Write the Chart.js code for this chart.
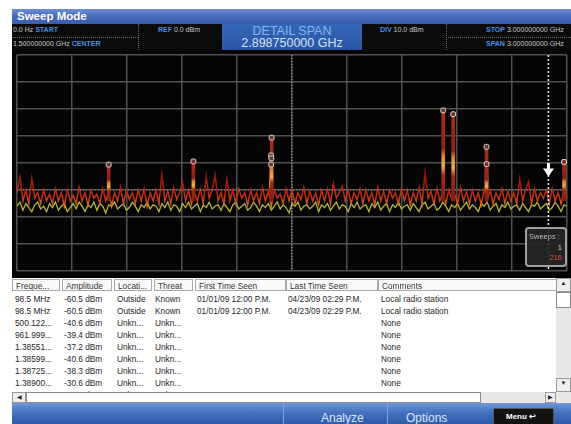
<!DOCTYPE html>
<html><head><meta charset="utf-8">
<script src="https://cdn.jsdelivr.net/npm/chart.js@4.4.1/dist/chart.umd.min.js"></script>
<style>
html,body{margin:0;padding:0;}
body{width:571px;height:424px;overflow:hidden;position:relative;background:#fff;font-family:"Liberation Sans",Arial,sans-serif;}
.a{position:absolute;white-space:nowrap;}
#title{left:12px;top:9px;width:559px;height:15px;background:linear-gradient(180deg,#7090d4 0%,#4a6cbc 45%,#3a5cae 100%);color:#fff;font-weight:bold;font-size:11.5px;line-height:15px;padding-left:5px;box-sizing:border-box;}
#info{left:12px;top:24px;width:559px;height:26px;background:#0b0b0b;}
.it{position:absolute;font-size:7px;color:#c8c8c8;white-space:nowrap;line-height:8px;}
.it b{color:#4a8ee0;}
.dh{position:absolute;height:0;border-top:1px dotted #6a6a6a;}
.dv{position:absolute;width:0;border-left:1px dotted #6a6a6a;}
#detail{left:222px;top:24px;width:140px;height:26px;background:linear-gradient(180deg,#3666b8,#2a56a4);text-align:center;}
#detail .l1{position:absolute;left:0;width:140px;top:1px;font-size:12.5px;line-height:13px;color:#86b4ea;}
#detail .l2{position:absolute;left:0;width:140px;top:13px;font-size:12.5px;line-height:13px;color:#d4e0f6;}
#plot{left:12px;top:50px;width:559px;height:228px;background:#050505;overflow:hidden;}
#plot canvas{position:absolute;left:0;top:0;}
#sweeps{left:525px;top:227px;width:38px;height:36px;border:2px solid #a0a0a0;border-radius:4px;background:rgba(38,38,38,0.92);}
#sweeps div{position:absolute;font-size:7.5px;line-height:9px;}
#tbl{left:12px;top:278px;width:544px;height:114px;overflow:hidden;background:#fff;}
.hc{position:absolute;top:1px;height:12px;border:1px solid #a8a8a8;background:#fafafa;font-size:8.3px;line-height:12px;color:#333;padding-left:3px;box-sizing:border-box;overflow:hidden;white-space:nowrap;}
.tc{position:absolute;font-size:8.3px;line-height:10px;color:#262626;white-space:nowrap;}
.btn{position:absolute;background:#eeeeee;border:1px solid #9a9a9a;box-sizing:border-box;font-size:6px;line-height:9px;text-align:center;color:#222;}
#bottom{left:12px;top:403px;width:559px;height:21px;background:linear-gradient(180deg,#6d98da 0%,#4571c0 45%,#2f5aa8 100%);}
.bt{position:absolute;top:8px;font-size:12px;color:#dbe6f8;line-height:14px;}
.sep{position:absolute;top:0;width:1px;height:21px;background:#7fa2dc;}
#menu{position:absolute;left:481px;top:5px;width:61px;height:17px;background:#131313;border:1px solid #555;border-radius:2px;box-sizing:border-box;color:#fff;font-weight:bold;font-size:8px;line-height:15px;padding-left:12px;}
</style>
</head><body>

<div id="title" class="a">Sweep Mode</div>
<div id="info" class="a"></div>
<div class="it" style="left:13px;top:25.5px;">0.0 Hz <b>START</b></div>
<div class="dh" style="left:12px;top:37px;width:126px;"></div>
<div class="it" style="left:13px;top:40px;">1.500000000 GHz <b>CENTER</b></div>
<div class="dv" style="left:138px;top:24px;height:26px;"></div>
<div class="it" style="left:158px;top:25.5px;"><b>REF</b> 0.0 dBm</div>
<div id="detail" class="a"><div class="l1">DETAIL SPAN</div><div class="l2">2.898750000 GHz</div></div>
<div class="it" style="left:380px;top:25.5px;"><b>DIV</b> 10.0 dBm</div>
<div class="dv" style="left:446px;top:24px;height:26px;"></div>
<div class="it" style="left:486px;top:25.5px;"><b>STOP</b> 3.000000000 GHz</div>
<div class="dh" style="left:448px;top:37px;width:123px;"></div>
<div class="it" style="left:486px;top:40px;"><b>SPAN</b> 3.000000000 GHz</div>

<div id="plot" class="a"><canvas id="c" width="560" height="226"></canvas></div>
<div id="sweeps" class="a">
  <div style="left:2px;top:3px;color:#b8b8b8;">Sweeps :</div>
  <div style="right:3px;top:14px;color:#e2d68c;">1</div>
  <div style="right:3px;top:24px;color:#e0553a;">216</div>
</div>

<div id="tbl" class="a"></div>
<div class="a" style="left:556px;top:278px;width:15px;height:114px;background:#e8e8e8;"></div>
<div class="btn" style="left:556px;top:278px;width:15px;height:14px;">▲</div>
<div class="a" style="left:556px;top:292px;width:15px;height:16px;background:#fff;border:1px solid #8a8a8a;box-sizing:border-box;"></div>
<div class="btn" style="left:556px;top:378px;width:15px;height:14px;">▼</div>

<div class="a" style="left:12px;top:392px;width:559px;height:11px;background:#e8e8e8;"></div>
<div class="btn" style="left:12px;top:392px;width:14px;height:11px;">◀</div>
<div class="a" style="left:26px;top:392px;width:455px;height:11px;background:#fff;border:1px solid #8a8a8a;box-sizing:border-box;"></div>
<div class="btn" style="left:545px;top:392px;width:11px;height:11px;">▶</div>

<div id="bottom" class="a">
  <div class="sep" style="left:271px;"></div>
  <div class="bt" style="left:309px;">Analyze</div>
  <div class="sep" style="left:375px;"></div>
  <div class="bt" style="left:394px;">Options</div>
  <div id="menu">Menu ↩</div>
</div>

<script>
// ---- sweep settings ----
const START_GHZ = 0;
const STOP_GHZ = 3;
const CENTER_GHZ = 1.5;
const CURSOR_GHZ = 2.89875;
const REF_DBM = 0;
const BOTTOM_DBM = -80;
const DIV_DB = 10;
const THRESHOLD_DBM = -50;
const NOISE_BASE_DBM = -54;
const CURSOR_ARROW_TOP_DBM = -40;
const CURSOR_ARROW_TIP_DBM = -45;

// ---- max-hold (red) trace, dBm per sweep bin ----
const redTrace = [
 -51,-45,-54,-50,-55,-45.5,-53,-51,-55,-50,
 -54,-51.5,-55,-49.5,-54,-51,-56,-50,-54,-52,
 -55,-49,-54,-51,-55.5,-50,-53,-51.5,-55,-49.5,
 -54,-50.5,-56,-51,-54,-49,-55,-50,-53.5,-51,
 -55,-50,-54,-49.5,-56,-51,-54,-50,-55,-44,
 -54,-50.5,-55,-49,-53.5,-51,-47,-54,-50,-55,
 -51,-54,-49.5,-55,-45,-53,-50,-44.5,-54,-51,
 -55,-46,-54,-50,-55,-49.5,-53,-51,-55.5,-50,
 -54,-51,-55,-49,-54,-50.5,-56,-50,-53,-51.5,
 -55,-49.5,-54,-50,-55,-51,-53.5,-49,-55,-50.5,
 -54,-51,-55.5,-50,-54,-49.5,-55,-47.5,-53,-51,
 -48.5,-54,-50,-55,-51,-53.5,-49.5,-55,-50,-54,
 -51,-55.5,-49,-54,-50.5,-55,-50,-53,-51,-55,
 -49.5,-54,-50,-55.5,-51,-54,-49,-55,-43.5,-53,
 -50.5,-55,-49.5,-54,-51,-55,-50,-53.5,-51.5,-55,
 -49,-54,-50.5,-55,-50,-54,-51,-55.5,-49.5,-54,
 -50,-55,-51,-53.5,-49.5,-55,-50.5,-54,-51,-55,
 -46,-54,-50,-47,-55,-49.5,-54,-51,-53,-50,
 -55,-49.5,-54,-51,-55,-50,-53
];

// ---- current sweep (yellow) trace, dBm per sweep bin ----
const yellowTrace = [
 -56,-54.5,-57.5,-55,-56.5,-58,-55.5,-54.5,-57,-56,
 -58,-55,-56.5,-54.5,-57.5,-56,-55,-58,-56.5,-55,
 -57,-54.5,-56,-58,-55.5,-56.5,-54.5,-57.5,-55,-56,
 -58.5,-55.5,-56,-54.5,-57,-56,-55,-57.5,-56.5,-54.5,
 -56,-58,-55.5,-56.5,-54.5,-57,-55.5,-56,-58,-55,
 -56.5,-54.5,-57.5,-55.5,-56,-58,-55,-56.5,-54.5,-57,
 -56,-55,-58,-55.5,-56.5,-54.5,-57,-56,-55.5,-57.5,
 -55,-56.5,-58,-55.5,-54.5,-57,-56,-55,-57.5,-56.5,
 -54.5,-56,-58,-55.5,-56.5,-55,-57.5,-56,-54.5,-57,
 -55.5,-56.5,-58.5,-55,-56,-54.5,-57.5,-56,-55.5,-57,
 -56,-54.5,-58,-55.5,-56.5,-55,-57.5,-56,-54.5,-57,
 -55.5,-56,-58,-55,-56.5,-54.5,-57,-56,-55.5,-58,
 -55,-56.5,-54.5,-57.5,-56,-55,-58,-55.5,-56.5,-54.5,
 -57,-56,-55.5,-57.5,-55,-56.5,-58,-55.5,-54.5,-57,
 -56,-55,-57.5,-56.5,-54.5,-56,-58,-55.5,-56.5,-55,
 -57.5,-56,-54.5,-57,-55.5,-56.5,-58,-55,-56,-54.5,
 -57.5,-56,-55,-58,-55.5,-56.5,-54.5,-57,-56,-55.5,
 -57.5,-55,-56.5,-58,-55.5,-56,-54.5,-57,-56,-55,
 -57.5,-56.5,-54.5,-56,-58,-55.5,-56
];

// ---- detected signals (markers) ----
const peakFreqGHz = [0.500122, 0.961999, 1.38551, 1.38599, 1.38725, 1.38900, 2.32475, 2.37900, 2.56100, 2.56150, 2.98400];
const peakDbm     = [-40.6, -39.4, -37.2, -40.6, -38.3, -30.6, -20.5, -21.9, -34.0, -40.4, -39.6];

// ---- signal table ----
const tableHeaders  = ["Freque...", "Amplitude", "Locati...", "Threat", "First Time Seen", "Last Time Seen", "Comments"];
const tableFreq     = ["98.5 MHz", "98.5 MHz", "500.122...", "961.999...", "1.38551...", "1.38599...", "1.38725...", "1.38900...", "2.32475..."];
const tableAmp      = ["-60.5 dBm", "-60.5 dBm", "-40.6 dBm", "-39.4 dBm", "-37.2 dBm", "-40.6 dBm", "-38.3 dBm", "-30.6 dBm", "-20.5 dBm"];
const tableLoc      = ["Outside", "Outside", "Unkn...", "Unkn...", "Unkn...", "Unkn...", "Unkn...", "Unkn...", "Unkn..."];
const tableThreat   = ["Known", "Known", "Unkn...", "Unkn...", "Unkn...", "Unkn...", "Unkn...", "Unkn...", "Unkn..."];
const tableFirst    = ["01/01/09 12:00 P.M.", "01/01/09 12:00 P.M.", "", "", "", "", "", "", ""];
const tableLast     = ["04/23/09 02:29 P.M.", "04/23/09 02:29 P.M.", "", "", "", "", "", "", ""];
const tableComments = ["Local radio station", "Local radio station", "None", "None", "None", "None", "None", "None", "None"];

// ---- build table (layout only) ----
(function(){
  const tbl = document.getElementById('tbl');
  const headBoxes = [[0,48],[50,50],[102,38],[142,39],[183,91],[274,92],[366,180]];
  const textX = [3,52,105,143,185,276,369];
  tableHeaders.forEach((h,i)=>{
    const d=document.createElement('div'); d.className='hc';
    d.style.left=headBoxes[i][0]+'px'; d.style.width=headBoxes[i][1]+'px'; d.textContent=h; tbl.appendChild(d);
  });
  const cols=[tableFreq,tableAmp,tableLoc,tableThreat,tableFirst,tableLast,tableComments];
  for(let r=0;r<tableFreq.length;r++){
    cols.forEach((col,ci)=>{
      if(!col[r]) return;
      const d=document.createElement('div'); d.className='tc';
      d.style.left=textX[ci]+'px'; d.style.top=(16+12*r)+'px'; d.textContent=col[r]; tbl.appendChild(d);
    });
  }
})();

// ---- chart ----
const binX = i => START_GHZ + i*(STOP_GHZ-START_GHZ)/(redTrace.length-1);
const redPts = redTrace.map((v,i)=>({x:binX(i), y:v}));
const yellowPts = yellowTrace.map((v,i)=>({x:binX(i), y:v}));
const peakBars = peakFreqGHz.map((f,i)=>({x:f, y:[NOISE_BASE_DBM, peakDbm[i]]}));
const peakPts = peakFreqGHz.map((f,i)=>({x:f, y:peakDbm[i]}));

function redGradient(ctx){
  const ch = ctx.chart; const ys = ch.scales.y;
  if(!ch.chartArea || !ys) return '#b02010';
  const g = ch.ctx.createLinearGradient(0, ys.getPixelForValue(-44), 0, ys.getPixelForValue(-56));
  g.addColorStop(0, '#8c1406');
  g.addColorStop(0.5, '#b4220e');
  g.addColorStop(0.8, '#c83a14');
  g.addColorStop(1, '#d8782a');
  return g;
}
function barGradient(ctx){
  const ch = ctx.chart; const ys = ch.scales.y; const raw = ctx.raw;
  if(!ch.chartArea || !ys || !raw) return '#a02414';
  const top = ys.getPixelForValue(raw.y[1]); const bot = ys.getPixelForValue(raw.y[0]);
  if(!isFinite(top) || !isFinite(bot) || bot-top < 2) return '#a02414';
  const g = ch.ctx.createLinearGradient(0, top, 0, bot);
  g.addColorStop(0, '#b42c1a');
  g.addColorStop(0.42, '#8c2014');
  g.addColorStop(0.5, '#d88430');
  g.addColorStop(0.62, '#e8b048');
  g.addColorStop(0.72, '#a42816');
  g.addColorStop(1, '#801c10');
  return g;
}

const cursorArrow = {
  id:'cursorArrow',
  afterDatasetsDraw(chart){
    const {ctx, scales:{x,y}} = chart;
    const px = x.getPixelForValue(CURSOR_GHZ);
    const top = y.getPixelForValue(CURSOR_ARROW_TOP_DBM);
    const tip = y.getPixelForValue(CURSOR_ARROW_TIP_DBM);
    const headH = 8, headW = 5.5;
    ctx.save();
    ctx.fillStyle = '#ffffff';
    ctx.fillRect(px-1.5, top, 3, tip-top-headH+1);
    ctx.beginPath();
    ctx.moveTo(px-headW, tip-headH);
    ctx.lineTo(px+headW, tip-headH);
    ctx.lineTo(px, tip);
    ctx.closePath(); ctx.fill();
    ctx.restore();
  }
};

new Chart(document.getElementById('c'), {
  type:'line',
  data:{datasets:[
    {type:'line', data:yellowPts, borderColor:'#bab440', borderWidth:1.3, pointRadius:0, tension:0, order:5},
    {type:'line', data:redPts, borderColor:redGradient, borderWidth:1.5, pointRadius:0, tension:0, order:4},
    {type:'line', data:[{x:START_GHZ,y:THRESHOLD_DBM},{x:STOP_GHZ,y:THRESHOLD_DBM}], borderColor:'rgba(200,200,200,0.6)', borderWidth:1, borderDash:[1,2], pointRadius:0, order:3},
    {type:'line', data:[{x:CENTER_GHZ,y:REF_DBM},{x:CENTER_GHZ,y:BOTTOM_DBM}], borderColor:'rgba(190,190,190,0.8)', borderWidth:1, borderDash:[1,2], pointRadius:0, order:3},
    {type:'line', data:[{x:CURSOR_GHZ,y:REF_DBM},{x:CURSOR_GHZ,y:BOTTOM_DBM}], borderColor:'#f0f0f0', borderWidth:1.5, borderDash:[2,2], pointRadius:0, order:3},
    {type:'bar', data:peakBars, backgroundColor:barGradient, barThickness:3, borderWidth:0, order:2},
    {type:'line', data:peakPts, showLine:false, pointStyle:'rectRounded', pointRadius:2.8, pointBackgroundColor:'#6a3430', pointBorderColor:'#e0d6d6', pointBorderWidth:1, order:1}
  ]},
  options:{
    animation:false, responsive:false, devicePixelRatio:1,
    layout:{padding:0},
    plugins:{legend:{display:false}, tooltip:{enabled:false}},
    scales:{
      x:{type:'linear', min:START_GHZ, max:STOP_GHZ, offset:false,
         ticks:{display:false, stepSize:(STOP_GHZ-START_GHZ)/10},
         grid:{color:'#505050', lineWidth:1.5, drawTicks:false, offset:false}, border:{display:false}},
      y:{type:'linear', min:BOTTOM_DBM, max:REF_DBM,
         ticks:{display:false, stepSize:DIV_DB},
         grid:{color:'#505050', lineWidth:1.5, drawTicks:false}, border:{display:false}}
    }
  },
  plugins:[cursorArrow]
});
</script>
</body></html>
